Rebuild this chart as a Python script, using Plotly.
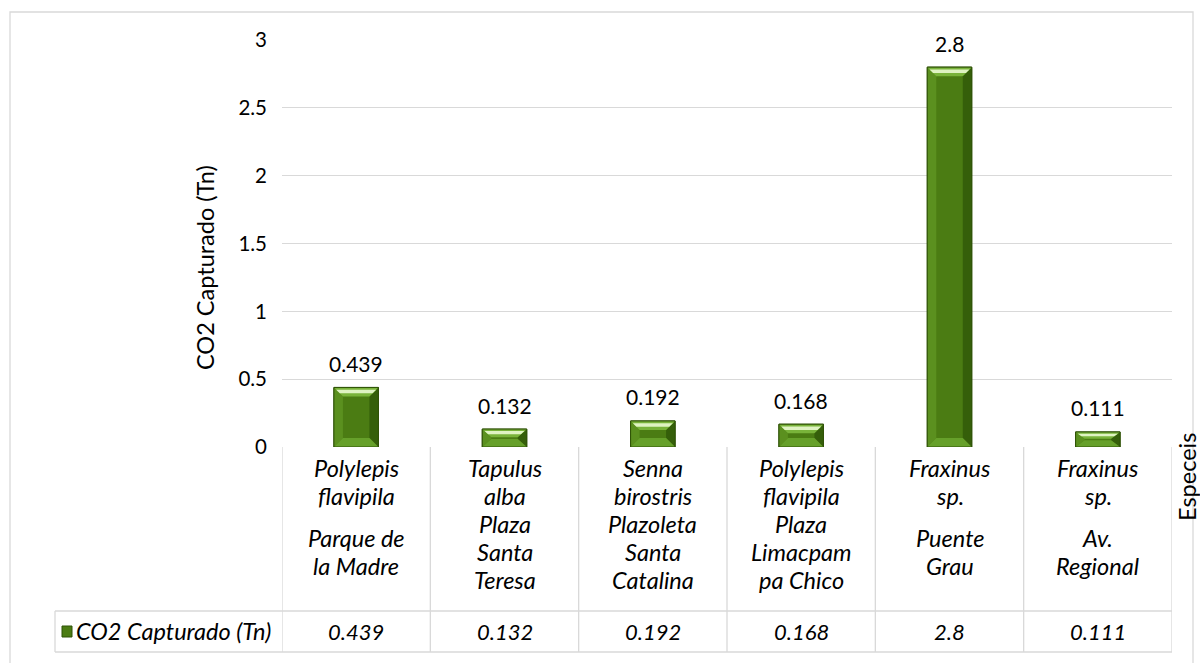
import plotly.graph_objects as go

# Data
species = [["Polylepis", "flavipila"], ["Tapulus", "alba"], ["Senna", "birostris"],
           ["Polylepis", "flavipila"], ["Fraxinus", "sp."], ["Fraxinus", "sp."]]
locations = [["Parque de", "la Madre"], ["Plaza", "Santa", "Teresa"],
             ["Plazoleta", "Santa", "Catalina"], ["Plaza", "Limacpam", "pa Chico"],
             ["Puente", "Grau"], ["Av.", "Regional"]]
co2 = [0.439, 0.132, 0.192, 0.168, 2.8, 0.111]
y_ticks = [0, 0.5, 1, 1.5, 2, 2.5, 3]
series_name = "CO2 Capturado (Tn)"
axis_title = "CO2 Capturado (Tn)"
cat_title = "Especeis"

# Layout geometry (pixels)
W, H = 1200, 663
L, R, T, B = 282, 1172, 40, 447
FONT = "Lato"
GRID = "#d9d9d9"
TXT = 23.5     # words
NUM = 21       # numbers


def px_x(p):
    return (p - L) / (R - L)


def px_y(p):
    return (B - p) / (B - T)


n = len(co2)
xs = list(range(n))
BAR_W = 0.30
ppx = (R - L) / n          # pixels per x unit
ppy = (B - T) / 3.0        # pixels per y unit

FRONT = "#4b7c13"
fig = go.Figure()
fig.add_trace(go.Bar(x=xs, y=co2, width=BAR_W, name=series_name,
                     marker=dict(color=FRONT, line=dict(color="#2f5207", width=1)),
                     showlegend=False, hoverinfo="x+y"))

shapes = []


def poly(pts, color, lw=0, lc=None):
    path = "M " + " L ".join(f"{a},{b}" for a, b in pts) + " Z"
    return dict(type="path", path=path, xref="x", yref="y", layer="above",
                fillcolor=color, line=dict(width=lw, color=lc or color))


# Bevelled faces of each bar
for x, v in zip(xs, co2):
    x0, x1 = x - BAR_W / 2, x + BAR_W / 2
    dx = 9 / ppx
    dy = min(9 / ppy, v * 0.45)
    # left / right faces
    shapes.append(poly([(x0, 0), (x0, v), (x0 + dx, v - dy), (x0 + dx, dy)], "#5b901f"))
    shapes.append(poly([(x1, 0), (x1, v), (x1 - dx, v - dy), (x1 - dx, dy)], "#355f0a"))
    # bottom face
    shapes.append(poly([(x0, 0), (x1, 0), (x1 - dx, dy), (x0 + dx, dy)], "#66a02a"))
    # top face with a bright highlight band
    shapes.append(poly([(x0, v), (x1, v), (x1 - dx, v - dy), (x0 + dx, v - dy)], "#79b33a"))
    f0, f1 = 0.25, 0.65
    shapes.append(poly([(x0 + dx * f0, v - dy * f0), (x1 - dx * f0, v - dy * f0),
                        (x1 - dx * f1, v - dy * f1), (x0 + dx * f1, v - dy * f1)], "#dff3c2"))
    # outline
    shapes.append(dict(type="rect", xref="x", yref="y", x0=x0, x1=x1, y0=0, y1=v,
                       layer="above", line=dict(color="#2f5207", width=1)))

# Data table lines
tbl_top, tbl_mid, tbl_bot = B, 611, 652
legend_left = 55
for i in range(n + 1):
    shapes.append(dict(type="line", xref="x", yref="paper", x0=i - 0.5, x1=i - 0.5,
                       y0=px_y(tbl_top), y1=px_y(tbl_bot), line=dict(color=GRID, width=1.3)))
for yy in (tbl_mid, tbl_bot):
    shapes.append(dict(type="line", xref="paper", yref="paper", x0=px_x(legend_left), x1=1,
                       y0=px_y(yy), y1=px_y(yy), line=dict(color=GRID, width=1.3)))
shapes.append(dict(type="line", xref="paper", yref="paper", x0=px_x(legend_left),
                   x1=px_x(legend_left), y0=px_y(tbl_mid), y1=px_y(tbl_bot),
                   line=dict(color=GRID, width=1.3)))
# legend key
shapes.append(dict(type="rect", xref="paper", yref="paper", x0=px_x(62), x1=px_x(72),
                   y0=px_y(637), y1=px_y(626), fillcolor=FRONT,
                   line=dict(color="#2f5207", width=1)))
# chart border
shapes.append(dict(type="rect", xref="paper", yref="paper", x0=px_x(10), x1=px_x(1193),
                   y0=px_y(700), y1=px_y(12), line=dict(color=GRID, width=1.3)))

annotations = []
# value labels
for x, v in zip(xs, co2):
    annotations.append(dict(x=x, y=v, xref="x", yref="y", text=f"{v:g}", showarrow=False,
                            yanchor="middle", yshift=24,
                            font=dict(family=FONT, size=NUM, color="#000000")))

# header cells
sp_rows = [468, 496]
for i in range(n):
    for txt, yy in zip(species[i], sp_rows):
        annotations.append(dict(x=i, y=px_y(yy), xref="x", yref="paper", text=f"<i>{txt}</i>",
                                showarrow=False, yanchor="middle",
                                font=dict(family=FONT, size=TXT, color="#000000")))
    loc = locations[i]
    start = 552 - 14 * (len(loc) - 1)
    for k, txt in enumerate(loc):
        annotations.append(dict(x=i, y=px_y(start + 28 * k), xref="x", yref="paper",
                                text=f"<i>{txt}</i>", showarrow=False, yanchor="middle",
                                font=dict(family=FONT, size=TXT, color="#000000")))
    annotations.append(dict(x=i, y=px_y(631), xref="x", yref="paper", text=f"<i>{co2[i]:g}</i>",
                            showarrow=False, yanchor="middle",
                            font=dict(family=FONT, size=NUM + 1, color="#000000")))

annotations.append(dict(x=px_x(74), y=px_y(631), xref="paper", yref="paper",
                        text=f"<i>{series_name}</i>", showarrow=False, xanchor="left",
                        yanchor="middle", font=dict(family=FONT, size=TXT, color="#000000")))
annotations.append(dict(x=px_x(205), y=px_y(268), xref="paper", yref="paper", text=axis_title,
                        showarrow=False, textangle=-90, xanchor="center", yanchor="middle",
                        font=dict(family=FONT, size=TXT, color="#000000")))
annotations.append(dict(x=px_x(1187), y=px_y(477), xref="paper", yref="paper", text=cat_title,
                        showarrow=False, textangle=-90, xanchor="center", yanchor="middle",
                        font=dict(family=FONT, size=TXT, color="#000000")))

fig.update_layout(
    width=W, height=H,
    margin=dict(l=L, r=W - R, t=T, b=H - B),
    paper_bgcolor="white", plot_bgcolor="white",
    bargap=0.7,
    xaxis=dict(range=[-0.5, n - 0.5], showticklabels=False, showgrid=False,
               zeroline=False, showline=False, ticks=""),
    yaxis=dict(range=[0, 3], tickvals=y_ticks, ticktext=[f"{t:g}" for t in y_ticks],
               showgrid=True, gridcolor=GRID, gridwidth=1.3, zeroline=False,
               showline=False, ticks="", ticklabelstandoff=14,
               tickfont=dict(family=FONT, size=20.5, color="#000000")),
    shapes=shapes, annotations=annotations,
    font=dict(family=FONT),
)

fig.write_html("out.html")
